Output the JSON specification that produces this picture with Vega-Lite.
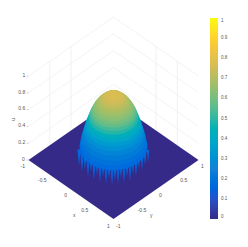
{"$schema":"https://vega.github.io/schema/vega-lite/v6.json","width":248,"height":247,"padding":0,"autosize":{"type":"fit","contains":"padding"},"background":"white","view":{"stroke":null},
"encoding":{"x":{"field":"h","type":"quantitative","axis":null,"scale":{"domain":[-2.6706,3.1647],"nice":false,"zero":false}},"y":{"field":"v","type":"quantitative","axis":null,"scale":{"domain":[-1.0357,1.9048],"nice":false,"zero":false}}},
"layer":[
{"data":{"values":[{"z":0.2,"h":-2,"v":0.2},{"z":0.2,"h":0,"v":0.902},{"z":0.2,"h":2,"v":0.2},{"z":0.4,"h":-2,"v":0.4},{"z":0.4,"h":0,"v":1.102},{"z":0.4,"h":2,"v":0.4},{"z":0.6,"h":-2,"v":0.6},{"z":0.6,"h":0,"v":1.302},{"z":0.6,"h":2,"v":0.6},{"z":0.8,"h":-2,"v":0.8},{"z":0.8,"h":0,"v":1.502},{"z":0.8,"h":2,"v":0.8},{"z":1,"h":-2,"v":1},{"z":1,"h":0,"v":1.702},{"z":1,"h":2,"v":1}]},
"mark":{"type":"line","color":"#ebebeb","strokeWidth":0.6},"encoding":{"detail":{"field":"z"},"order":{"field":"h"}}},
{"data":{"values":[{"h":-1.5,"v":0.1755,"v2":1.1755},{"h":-1,"v":0.351,"v2":1.351},{"h":1,"v":0.351,"v2":1.351},{"h":1.5,"v":0.1755,"v2":1.1755}]},
"mark":{"type":"rule","color":"#ebebeb","strokeWidth":0.7},"encoding":{"y2":{"field":"v2"}}},
{"data":{"values":[{"h":-2.04,"h2":-2,"v":0},{"h":-2.04,"h2":-2,"v":0.2},{"h":-2.04,"h2":-2,"v":0.4},{"h":-2.04,"h2":-2,"v":0.6},{"h":-2.04,"h2":-2,"v":0.8},{"h":-2.04,"h2":-2,"v":1}]},
"mark":{"type":"rule","color":"#999999","strokeWidth":0.5},"encoding":{"x2":{"field":"h2"}}},
{"data":{"values":[{"h":-2,"v":0,"v2":0},{"h":0,"v":0.702,"v2":-0.702},{"h":2,"v":0,"v2":0}]},
"mark":{"type":"area","color":"#352a87","opacity":1},"encoding":{"y2":{"field":"v2"}}},
{"data":{"values":[{"h":-0.812,"v":0.03,"r":0.134,"u":0.17},{"h":-0.741,"v":-0.012,"r":0.183,"u":0.15},{"h":-0.671,"v":0.006,"r":0.158,"u":0.2},{"h":-0.6,"v":-0.041,"r":0.225,"u":0.14},{"h":-0.529,"v":-0.012,"r":0.183,"u":0.2},{"h":-0.459,"v":-0.059,"r":0.25,"u":0.14},{"h":-0.388,"v":-0.03,"r":0.208,"u":0.2},{"h":-0.318,"v":-0.071,"r":0.267,"u":0.13},{"h":-0.247,"v":-0.041,"r":0.225,"u":0.2},{"h":-0.176,"v":-0.083,"r":0.283,"u":0.14},{"h":-0.106,"v":-0.053,"r":0.242,"u":0.19},{"h":-0.035,"v":-0.089,"r":0.292,"u":0.13},{"h":0.035,"v":-0.059,"r":0.25,"u":0.2},{"h":0.106,"v":-0.083,"r":0.283,"u":0.14},{"h":0.176,"v":-0.047,"r":0.233,"u":0.2},{"h":0.247,"v":-0.077,"r":0.275,"u":0.14},{"h":0.318,"v":-0.041,"r":0.225,"u":0.2},{"h":0.388,"v":-0.065,"r":0.258,"u":0.14},{"h":0.459,"v":-0.024,"r":0.2,"u":0.2},{"h":0.529,"v":-0.035,"r":0.217,"u":0.15},{"h":0.6,"v":0.006,"r":0.158,"u":0.2},{"h":0.671,"v":0,"r":0.167,"u":0.15},{"h":0.741,"v":0.03,"r":0.125,"u":0.2},{"h":0.812,"v":0.048,"r":0.1,"u":0.17}]},
"mark":{"type":"point","filled":true,"opacity":1,"strokeWidth":0,"shape":"M-0.2,-1L0.2,-1L0,1Z"},
"encoding":{"size":{"field":"r","type":"quantitative","legend":null,"scale":{"type":"pow","exponent":2,"domain":[0,1],"range":[0,14448]}},"color":{"field":"u","type":"quantitative","scale":{"domain":[0,0.125,0.25,0.375,0.5,0.625,0.75,0.875,1],"range":["#352a87","#0f5cdd","#1481d6","#06a4ca","#2eb7a4","#87bf77","#d1bb59","#fec832","#f9fb0e"]},
"legend":{"type":"gradient","orient":"none","legendX":210,"legendY":18,"title":null,"gradientLength":201,"gradientThickness":8,"gradientStrokeWidth":0,"values":[0,0.1,0.2,0.3,0.4,0.5,0.6,0.7,0.8,0.9,1],"format":"~g","labelFontSize":4.5,"labelColor":"#555555","labelFont":"Liberation Sans","labelOffset":3,"labelOverlap":false}}}},
{"data":{"values":[{"h":0,"r":0.565,"v":0.16,"u":0.17},{"h":0,"r":0.55,"v":0.205,"u":0.2},{"h":0,"r":0.535,"v":0.257,"u":0.23},{"h":0,"r":0.515,"v":0.306,"u":0.26},{"h":0,"r":0.495,"v":0.352,"u":0.3},{"h":0,"r":0.475,"v":0.395,"u":0.34},{"h":0,"r":0.455,"v":0.435,"u":0.39},{"h":0,"r":0.435,"v":0.473,"u":0.44},{"h":0,"r":0.415,"v":0.508,"u":0.49},{"h":0,"r":0.395,"v":0.541,"u":0.53},{"h":0,"r":0.375,"v":0.572,"u":0.572},{"h":0,"r":0.355,"v":0.599,"u":0.599},{"h":0,"r":0.335,"v":0.625,"u":0.625},{"h":0,"r":0.31,"v":0.647,"u":0.647},{"h":0,"r":0.29,"v":0.669,"u":0.669},{"h":0,"r":0.265,"v":0.687,"u":0.687},{"h":0,"r":0.245,"v":0.704,"u":0.704},{"h":0,"r":0.22,"v":0.719,"u":0.719},{"h":0,"r":0.2,"v":0.732,"u":0.732},{"h":0,"r":0.18,"v":0.743,"u":0.743},{"h":0,"r":0.16,"v":0.753,"u":0.753},{"h":0,"r":0.14,"v":0.76,"u":0.76},{"h":0,"r":0.12,"v":0.767,"u":0.767},{"h":0,"r":0.1,"v":0.771,"u":0.771},{"h":0,"r":0.08,"v":0.775,"u":0.775},{"h":0,"r":0.06,"v":0.778,"u":0.778},{"h":0,"r":0.04,"v":0.779,"u":0.779},{"h":0,"r":0.02,"v":0.78,"u":0.78}]},
"mark":{"type":"point","filled":true,"opacity":1,"strokeWidth":0,"shape":"M-1,0A1,0.694,0,1,1,1,0A1,0.694,0,1,1,-1,0Z"},
"encoding":{"size":{"field":"r","type":"quantitative","legend":null,"scale":{"type":"pow","exponent":2,"domain":[0,1],"range":[0,14448]}},"order":{"field":"r","sort":"descending"},
"color":{"field":"u","type":"quantitative","scale":{"domain":[0,0.125,0.25,0.375,0.5,0.625,0.75,0.875,1],"range":["#352a87","#0f5cdd","#1481d6","#06a4ca","#2eb7a4","#87bf77","#d1bb59","#fec832","#f9fb0e"]},
"legend":{"type":"gradient","orient":"none","legendX":210,"legendY":18,"title":null,"gradientLength":201,"gradientThickness":8,"gradientStrokeWidth":0,"values":[0,0.1,0.2,0.3,0.4,0.5,0.6,0.7,0.8,0.9,1],"format":"~g","labelFontSize":4.5,"labelColor":"#555555","labelFont":"Liberation Sans","labelOffset":3,"labelOverlap":false}}}},
{"data":{"values":[{"t":"1","h":-2.106,"v":1.012},{"t":"0.8","h":-2.16,"v":0.81},{"t":"0.6","h":-2.16,"v":0.619},{"t":"0.4","h":-2.16,"v":0.417},{"t":"0.2","h":-2.16,"v":0.214},{"t":"0","h":-2.122,"v":0.015},{"t":"-1","h":-2.136,"v":-0.071},{"t":"-0.5","h":-1.675,"v":-0.242},{"t":"0","h":-1.125,"v":-0.417},{"t":"0.5","h":-0.678,"v":-0.595},{"t":"1","h":-0.122,"v":-0.782},{"t":"x","h":-0.922,"v":-0.658},{"t":"-1","h":0.113,"v":-0.782},{"t":"-0.5","h":0.671,"v":-0.595},{"t":"0","h":1.101,"v":-0.417},{"t":"0.5","h":1.652,"v":-0.242},{"t":"1","h":2.089,"v":-0.068},{"t":"y","h":0.889,"v":-0.658}]},
"mark":{"type":"text","fontSize":5,"font":"Liberation Sans","color":"#555555","align":"center","baseline":"middle"},"encoding":{"text":{"field":"t"}}},
{"data":{"values":[{"t":"u","h":-2.358,"v":0.485}]},
"mark":{"type":"text","fontSize":5,"font":"Liberation Sans","color":"#555555","align":"center","baseline":"middle","angle":270},"encoding":{"text":{"field":"t"}}}
]}
